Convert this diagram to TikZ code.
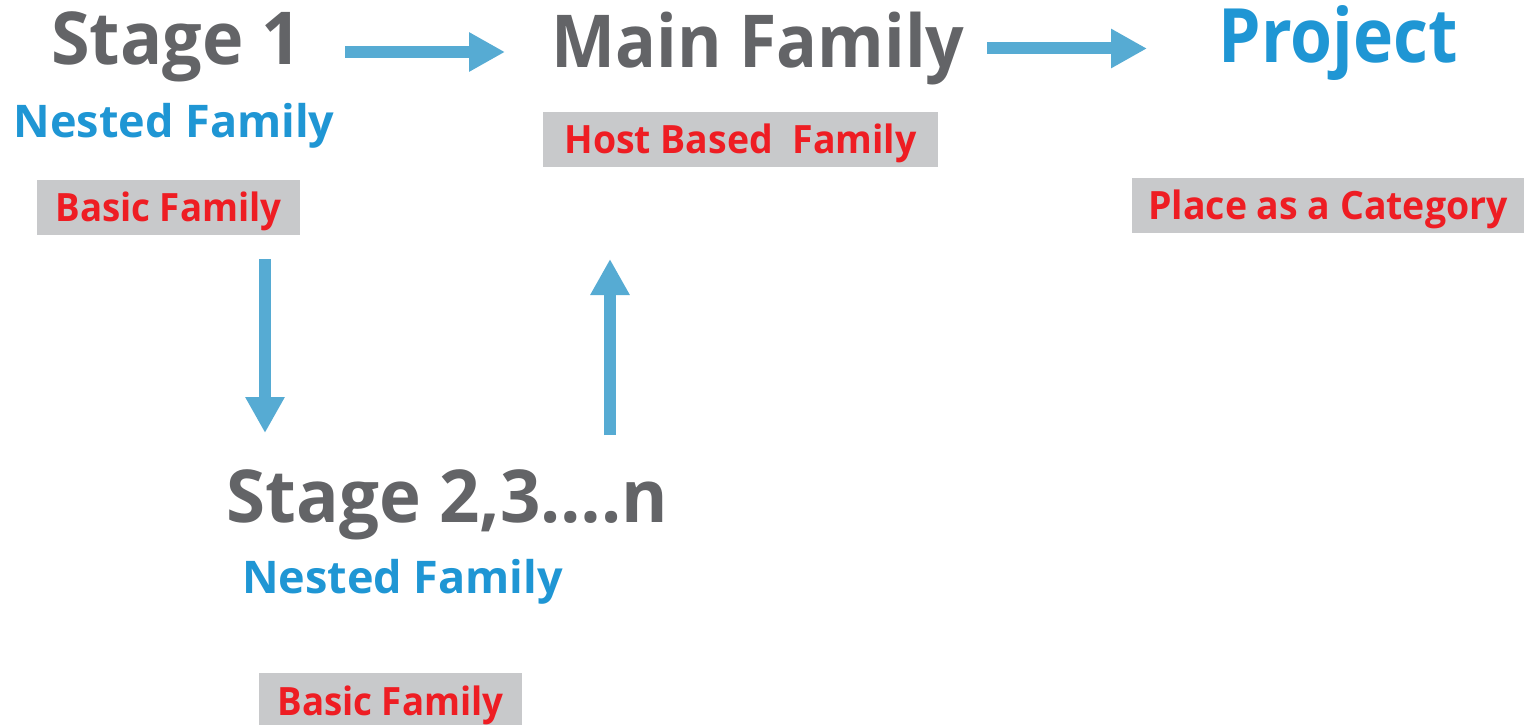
\documentclass[tikz,border=0pt]{standalone}
\usepackage{fontspec}
\setmainfont{Open Sans}
\usetikzlibrary{arrows.meta}
\definecolor{headgrey}{HTML}{636467}
\definecolor{famblue}{HTML}{1F96D4}
\definecolor{tagred}{HTML}{EE1D23}
\definecolor{tagbox}{HTML}{C8C9CB}
\definecolor{flowblue}{HTML}{56ABD3}
% horizontally condensed text
\newcommand{\narrow}[2]{\scalebox{#1}[1]{#2}}
\tikzset{
  title/.style={inner sep=0pt, anchor=base, text=headgrey,
    font=\bfseries\fontsize{73}{80}\selectfont},
  subtitle/.style={inner sep=0pt, anchor=base, text=famblue,
    font=\bfseries\fontsize{45}{50}\selectfont},
  tag/.style={fill=tagbox, inner sep=0pt, text=tagred,
    font=\bfseries\fontsize{39}{44}\selectfont,
    text height=28pt, text depth=0pt, minimum height=55pt},
  flow/.style={draw=flowblue, line width=12pt, line cap=butt,
    -{Triangle[width=37pt,length=36pt]}}
}
\begin{document}
\begin{tikzpicture}[x=1pt, y=-1pt]
\useasboundingbox (0,0) rectangle (1524,725);

% headings
\node[title] (s1) at (176.5,65) {\narrow{0.96}{Stage 1}};
\node[subtitle] (n1) at (174,137) {Nested Family};
\node[tag, minimum width=263pt] (b1) at (168.5,207.5) {\narrow{0.94}{Basic Family}};

\node[title] (mf) at (758,67) {\narrow{0.93}{Main Family}};
\node[tag, minimum width=395pt] (hb) at (740.5,139) {\narrow{0.96}{Host Based\ \ Family}};

\node[title, text=famblue, font=\bfseries\fontsize{75}{80}\selectfont] (pr) at (1338.5,63) {\narrow{0.905}{Project}};
\node[tag, minimum width=392pt] (pc) at (1328,205.5) {\narrow{0.96}{Place as a Category}};

\node[title] (s2) at (447.5,522) {\narrow{0.97}{Stage 2,3\char"2026.n}};
\node[subtitle] (n2) at (402.5,593) {Nested Family};
\node[tag, minimum width=263pt, minimum height=56pt] (b2) at (390.5,701) {\narrow{0.94}{Basic Family}};

% block arrows
\coordinate (a1s) at (345,52);   \coordinate (a1e) at (505,52);
\coordinate (a2s) at (987,48.5); \coordinate (a2e) at (1147,48.5);
\coordinate (a3s) at (265,259);  \coordinate (a3e) at (265,433);
\coordinate (a4s) at (610,435);  \coordinate (a4e) at (610,259);
\draw[flow] (a1s) -- (a1e);
\draw[flow] (a2s) -- (a2e);
\draw[flow] (a3s) -- (a3e);
\draw[flow] (a4s) -- (a4e);
\end{tikzpicture}
\end{document}
